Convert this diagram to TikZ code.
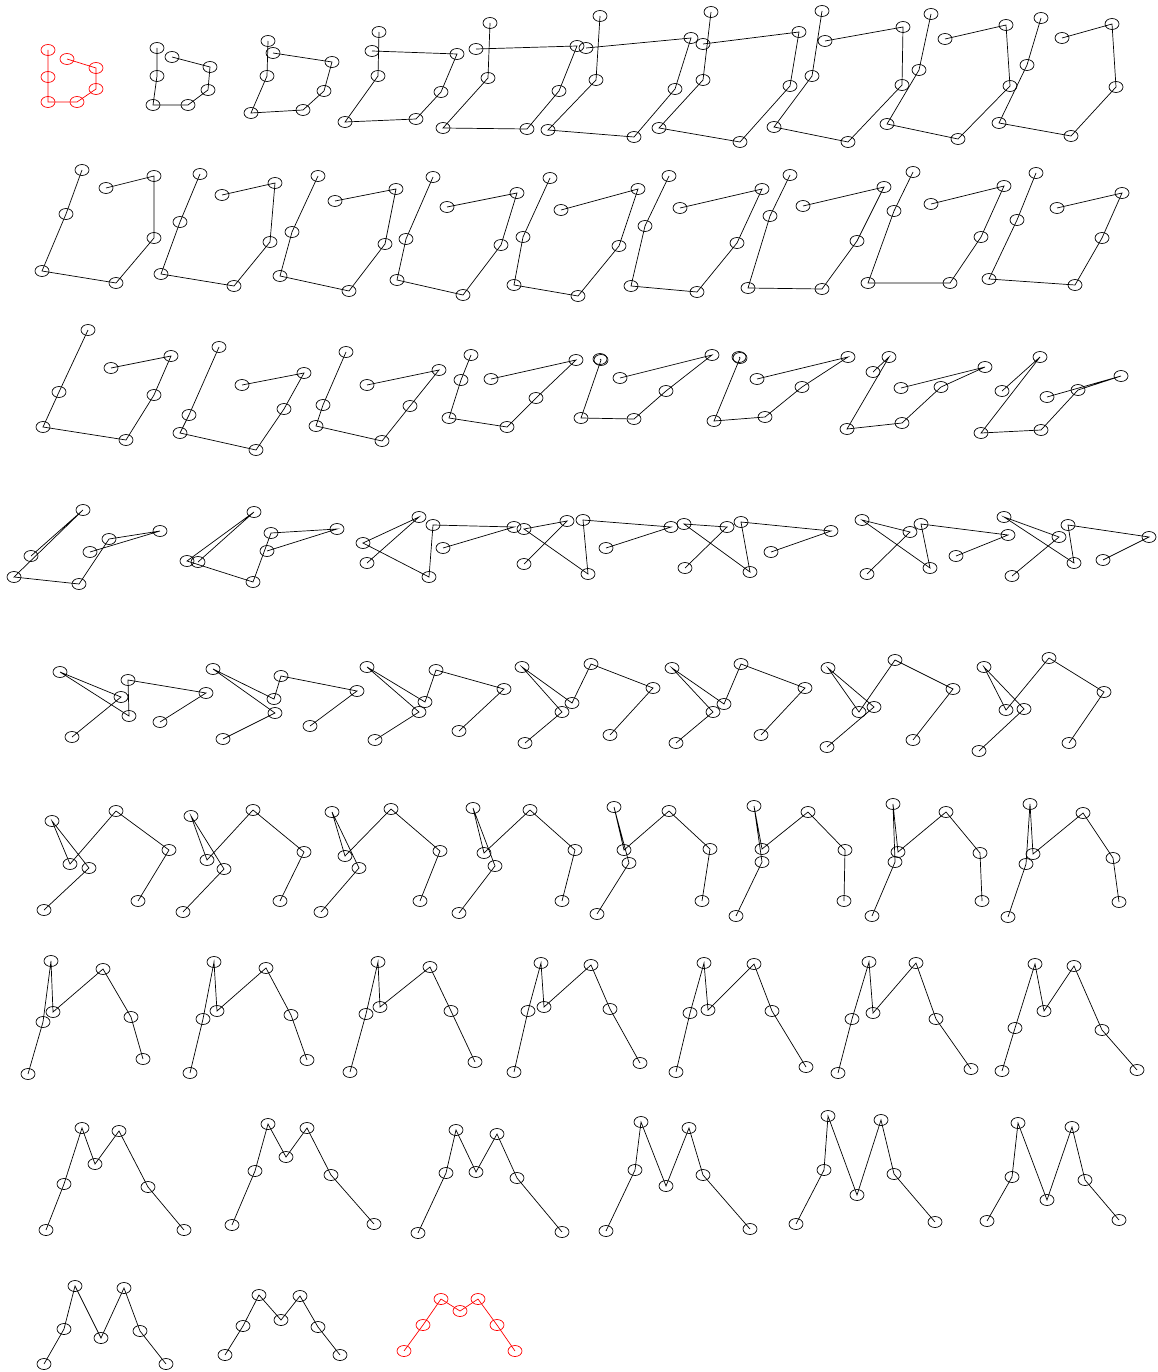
\documentclass[tikz,border=0pt]{standalone}
\usetikzlibrary{shapes.geometric}
\tikzset{
  vx/.style={ellipse,draw,line width=0.7pt,inner sep=0pt,minimum width=14pt,minimum height=11pt},
  ln/.style={line width=0.7pt}
}
\newcommand\chainfr[9]{%
  \node[vx,draw=#1] (#2a) at (#3) {};
  \node[vx,draw=#1] (#2b) at (#4) {};
  \node[vx,draw=#1] (#2c) at (#5) {};
  \node[vx,draw=#1] (#2d) at (#6) {};
  \node[vx,draw=#1] (#2e) at (#7) {};
  \node[vx,draw=#1] (#2f) at (#8) {};
  \node[vx,draw=#1] (#2g) at (#9) {};
  \draw[ln,draw=#1] (#2a.center) -- (#2b.center) -- (#2c.center) -- (#2d.center) -- (#2e.center) -- (#2f.center) -- (#2g.center);
}
\begin{document}
\begin{tikzpicture}[x=1pt,y=-1pt]
\useasboundingbox (0,0) rectangle (1158,1372);
\chainfr{red}{f1}{48,50}{48,77}{48,102}{77,102}{96,89}{96,68}{67,59}
\chainfr{black}{f2}{157,48}{157,76}{153,105}{188,105}{208,90}{210,67}{172,57}
\chainfr{black}{f3}{268,41}{267,76}{251,113}{303,110}{324,91}{332,62}{273,53}
\chainfr{black}{f4}{379,32}{378,76}{345,122}{416,119}{441,92}{457,54}{372,51}
\chainfr{black}{f5}{490,23}{488,78}{443,128}{527,129}{559,91}{577,46}{476,49}
\chainfr{black}{f6}{600,16}{596,80}{548,130}{634,137}{675,89}{691,38}{586,48}
\chainfr{black}{f7}{711,12}{703,80}{659,128}{740,142}{790,86}{799,32}{703,44}
\chainfr{black}{f8}{822,11}{812,76}{774,127}{848,142}{902,85}{903,27}{825,41}
\chainfr{black}{f9}{931,14}{919,70}{887,124}{958,139}{1010,86}{1006,25}{945,39}
\chainfr{black}{f10}{1041,18}{1027,65}{999,123}{1071,136}{1116,87}{1112,24}{1062,38}
\chainfr{black}{f11}{82,170}{66,214}{42,271}{116,283}{154,238}{154,176}{106,188}
\chainfr{black}{f12}{200,174}{180,222}{161,274}{234,286}{270,242}{275,183}{222,195}
\chainfr{black}{f13}{318,176}{292,232}{280,276}{349,291}{385,244}{396,189}{335,201}
\chainfr{black}{f14}{433,177}{406,239}{397,280}{463,295}{501,245}{517,193}{447,207}
\chainfr{black}{f15}{550,178}{523,237}{514,285}{578,296}{619,246}{638,189}{561,210}
\chainfr{black}{f16}{669,176}{645,226}{631,286}{697,292}{737,243}{762,189}{680,208}
\chainfr{black}{f17}{790,175}{770,216}{748,288}{822,289}{857,241}{884,187}{803,206}
\chainfr{black}{f18}{913,172}{894,211}{868,283}{950,283}{981,237}{1004,186}{931,204}
\chainfr{black}{f19}{1036,173}{1017,220}{989,279}{1075,285}{1102,238}{1122,193}{1057,208}
\chainfr{black}{f20}{88,330}{59,392}{43,427}{126,440}{154,395}{171,356}{111,368}
\chainfr{black}{f21}{219,347}{189,415}{180,433}{256,450}{284,409}{304,373}{242,385}
\chainfr{black}{f22}{346,352}{323,405}{316,426}{382,441}{410,406}{439,370}{367,385}
\chainfr{black}{f23}{471,355}{461,380}{449,418}{507,427}{536,398}{576,360}{491,379}
\chainfr{black}{f24}{600,359}{601,360}{581,418}{634,419}{666,391}{712,355}{620,378}
\chainfr{black}{f25}{739,357}{740,358}{714,421}{765,417}{802,387}{848,357}{757,379}
\chainfr{black}{f26}{873,372}{889,357}{847,429}{902,423}{941,387}{985,367}{901,388}
\chainfr{black}{f27}{1002,391}{1040,357}{981,433}{1041,430}{1078,390}{1121,376}{1047,397}
\chainfr{black}{f28}{31,556}{83,510}{14,577}{79,584}{109,539}{160,531}{90,552}
\chainfr{black}{f29}{198,562}{254,512}{187,561}{253,582}{271,533}{337,529}{267,551}
\chainfr{black}{f30}{367,563}{419,517}{363,543}{429,577}{433,525}{514,527}{443,548}
\chainfr{black}{f31}{524,564}{567,521}{524,529}{588,574}{583,520}{671,527}{606,548}
\chainfr{black}{f32}{685,568}{727,527}{684,524}{750,572}{741,522}{831,531}{771,552}
\chainfr{black}{f33}{867,574}{910,532}{862,520}{930,568}{921,524}{1008,535}{956,556}
\chainfr{black}{f34}{1012,576}{1059,537}{1004,517}{1074,563}{1068,525}{1149,537}{1103,560}
\chainfr{black}{f35}{72,737}{121,697}{60,672}{129,716}{128,680}{206,693}{160,722}
\chainfr{black}{f36}{223,739}{275,713}{213,669}{274,699}{281,676}{357,691}{310,726}
\chainfr{black}{f37}{375,740}{419,712}{367,667}{425,702}{436,670}{504,689}{459,731}
\chainfr{black}{f38}{525,743}{562,712}{522,667}{572,703}{591,664}{653,688}{610,735}
\chainfr{black}{f39}{676,743}{713,712}{672,668}{724,704}{741,664}{805,688}{761,735}
\chainfr{black}{f40}{827,747}{874,707}{828,668}{859,712}{895,660}{953,689}{913,740}
\chainfr{black}{f41}{979,751}{1024,709}{984,667}{1006,710}{1049,658}{1104,692}{1069,743}
\chainfr{black}{f42}{44,910}{89,868}{52,821}{70,864}{116,811}{169,850}{138,901}
\chainfr{black}{f43}{183,912}{224,869}{191,816}{207,860}{253,810}{304,852}{280,901}
\chainfr{black}{f44}{321,912}{359,868}{332,812}{345,856}{391,809}{440,851}{420,901}
\chainfr{black}{f45}{459,913}{495,866}{473,808}{484,853}{530,810}{575,850}{562,901}
\chainfr{black}{f46}{597,914}{629,863}{614,807}{624,850}{669,811}{710,849}{702,901}
\chainfr{black}{f47}{736,916}{762,862}{754,806}{762,849}{808,812}{845,850}{844,901}
\chainfr{black}{f48}{872,916}{895,862}{893,804}{898,852}{946,812}{980,853}{982,901}
\chainfr{black}{f49}{1008,917}{1026,864}{1030,804}{1033,854}{1083,813}{1113,858}{1119,902}
\chainfr{black}{f50}{28,1074}{43,1022}{51,961}{53,1012}{103,969}{131,1017}{143,1059}
\chainfr{black}{f51}{190,1073}{203,1019}{214,962}{217,1011}{266,968}{291,1015}{307,1060}
\chainfr{black}{f52}{350,1072}{366,1014}{378,962}{380,1007}{430,967}{451,1011}{475,1062}
\chainfr{black}{f53}{514,1072}{528,1011}{541,963}{544,1007}{591,965}{610,1009}{640,1063}
\chainfr{black}{f54}{676,1072}{690,1013}{704,963}{708,1010}{754,964}{772,1011}{806,1067}
\chainfr{black}{f55}{838,1073}{852,1019}{869,962}{873,1013}{916,963}{936,1019}{971,1069}
\chainfr{black}{f56}{1002,1071}{1015,1028}{1035,964}{1044,1011}{1074,966}{1102,1030}{1137,1070}
\chainfr{black}{f57}{46,1230}{64,1184}{82,1128}{95,1164}{119,1131}{148,1187}{184,1230}
\chainfr{black}{f58}{232,1225}{255,1171}{268,1124}{286,1157}{307,1128}{331,1175}{374,1224}
\chainfr{black}{f59}{418,1233}{446,1173}{456,1130}{476,1172}{497,1134}{517,1178}{562,1232}
\chainfr{black}{f60}{606,1231}{635,1170}{641,1122}{666,1186}{689,1128}{703,1175}{750,1229}
\chainfr{black}{f61}{796,1224}{824,1170}{828,1116}{857,1195}{881,1120}{894,1174}{935,1222}
\chainfr{black}{f62}{987,1221}{1012,1177}{1018,1123}{1047,1200}{1072,1127}{1085,1180}{1119,1220}
\chainfr{black}{f63}{44,1364}{64,1329}{75,1286}{101,1338}{124,1288}{140,1331}{166,1364}
\chainfr{black}{f64}{225,1355}{243,1326}{259,1295}{281,1320}{300,1296}{318,1327}{340,1355}
\chainfr{red}{f65}{404,1351}{423,1325}{441,1299}{460,1311}{478,1299}{497,1325}{515,1351}
\end{tikzpicture}
\end{document}
